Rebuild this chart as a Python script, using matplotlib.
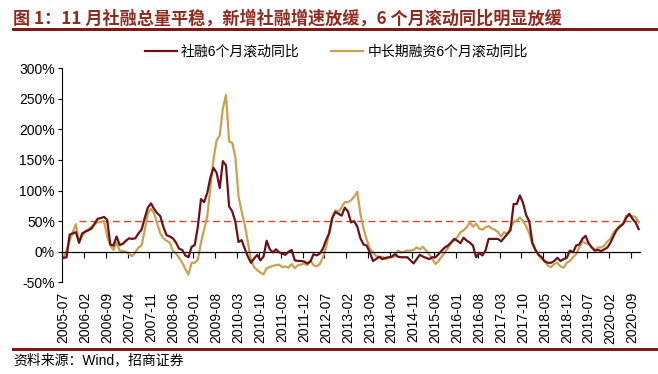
import matplotlib
matplotlib.use("Agg")
import matplotlib.pyplot as plt
from matplotlib.lines import Line2D
from matplotlib.ticker import FuncFormatter

plt.rcParams['font.family'] = ['Liberation Sans', 'Noto Sans CJK SC', 'DejaVu Sans']

# monthly, 2005-07 .. 2020-11
start_year, start_month = 2005, 7

# 社融6个月滚动同比 (%)
sr_roll6 = [
    -10, -9, 28, 30, 32, 15, 30, 33, 35, 38,
    46, 54, 55, 57, 52, 12, 10, 25, 11, 13,
    18, 22, 21, 22, 30, 36, 55, 72, 79, 70,
    63, 58, 40, 27, 25, 22, 15, 5, 3, -6,
    -9, 8, 11, 41, 86, 81, 96, 121, 137, 129,
    104, 148, 141, 74, 66, 49, 16, 19, 5, -8,
    -18, -11, -5, -14, -8, 18, 4, -1, 4, -1,
    -3, -5, 0, 3, -14, -15, -15, -16, -19, -16,
    -4, -6, -3, 5, 19, 30, 55, 65, 62, 59,
    72, 66, 48, 50, 41, 22, 12, 10, -1, -15,
    -12, -8, -12, -10, -9, -8, -4, -8, -9, -9,
    -9, -14, -19, -12, -5, -8, -10, -12, -9, -9,
    -4, 2, 7, 10, 15, 21, 18, 14, 23, 18,
    15, 10, -9, -2, -6, 2, 21, 21, 21, 21,
    17, 23, 29, 35, 78, 78, 92, 80, 60, 50,
    15, 3, -5, -9, -16, -18, -18, -15, -10, -15,
    -12, -10, 2, -1, 10, 12, 21, 26, 14, 7,
    2, 3, 1, 4, 7, 15, 26, 36, 41, 45,
    55, 62, 54, 48, 37,
]

# 中长期融资6个月滚动同比 (%)
mlt_roll6 = [
    -10, 2, 18, 32, 45, 14, 26, 33, 37, 41,
    45, 48, 49, 50, 25, 10, 3, 15, 2, 1,
    0, -4, -7, -1, 7, 10, 35, 62, 70, 63,
    46, 30, 22, 18, 15, 2, -3, -10, -18, -28,
    -37, -18, -18, -13, 15, 36, 58, 104, 151, 182,
    190, 234, 256, 180, 178, 155, 91, 66, 44, 16,
    -14, -25, -30, -34, -37, -27, -25, -23, -22, -21,
    -25, -24, -26, -20, -27, -22, -21, -19, -22, -14,
    -22, -24, -20, -9, 7, 32, 57, 68, 65, 73,
    81, 81, 84, 90, 98, 62, 38, 20, 5, -1,
    -7, -9, -8, -12, -10, -9, -8, 2, -1, 0,
    2, 2, 3, 7, 4, 8, 2, -4, -12, -20,
    -15, -8, -1, 6, 15, 18, 24, 32, 35, 40,
    48, 41, 46, 38, 36, 40, 42, 38, 36, 32,
    25, 32, 29, 40, 48, 51, 56, 50, 42, 30,
    12, 2, -6, -12, -16, -23, -25, -20, -18, -24,
    -26, -18, -15, -9, -4, 7, 17, 14, 13, 7,
    2, 7, 7, 10, 17, 21, 32, 37, 43, 46,
    59, 59, 58, 57, 48,
]

# dashed reference level (%), drawn from the 6th month on
ref_level = 49.5
ref_start = 5

label_step = 7

n = len(sr_roll6)
months = []
for k in range(n):
    y = start_year + (start_month - 1 + k) // 12
    m = (start_month - 1 + k) % 12 + 1
    months.append(f"{y}-{m:02d}")
xs = list(range(n))

DARK = '#6B1218'
GOLD = '#C9A24F'
TITLE_RED = '#8E2A1E'

fig = plt.figure(figsize=(6.58, 3.74), dpi=100)
ax = fig.add_axes([0.094, 0.245, 0.879, 0.573])

ax.plot(xs, sr_roll6, color=DARK, lw=1.6, label='社融6个月滚动同比', zorder=3)
ax.plot(xs, mlt_roll6, color=GOLD, lw=1.6, label='中长期融资6个月滚动同比', zorder=2)
ax.plot(xs[ref_start:], [ref_level] * (n - ref_start), color='#D0453A',
        lw=1.0, dashes=(5, 3), zorder=1)

ax.set_xlim(-0.5, n - 0.5)
ax.set_ylim(-50, 300)
ax.set_yticks(range(-50, 301, 50))
ax.yaxis.set_major_formatter(FuncFormatter(lambda v, p: f"{int(v)}%"))
ax.tick_params(axis='y', direction='out', length=3, width=0.8, labelsize=10, pad=2)

for s in ['top', 'right']:
    ax.spines[s].set_visible(False)
ax.spines['left'].set_linewidth(0.8)
ax.spines['bottom'].set_position(('data', 0))
ax.spines['bottom'].set_linewidth(0.9)

# category boundary ticks on the zero line
ax.set_xticks([k - 0.5 for k in range(0, n, label_step)])
ax.tick_params(axis='x', direction='out', length=4, width=0.8, labelbottom=False)

# date labels at the bottom of the plot
sec = ax.secondary_xaxis('bottom')
sec.set_xticks(xs[::label_step], [months[k] for k in xs[::label_step]], rotation=90)
sec.tick_params(length=0, labelsize=10, pad=7)
sec.spines['bottom'].set_visible(False)

fig.legend(loc='center', bbox_to_anchor=(0.511, 0.861), ncol=2, frameon=False,
           fontsize=10, handlelength=2.3, handletextpad=0.3, columnspacing=2.3)

fig.text(0.02, 0.949, '图 1：11 月社融总量平稳，新增社融增速放缓，6 个月滚动同比明显放缓',
         fontsize=12.3, fontweight='bold', color=TITLE_RED, va='center', ha='left',
         family=['Noto Sans CJK SC', 'DejaVu Sans'])
fig.add_artist(Line2D([0.02, 1.0], [0.922, 0.922], transform=fig.transFigure,
                      color='#7E1A16', lw=2.2))
fig.add_artist(Line2D([0.02, 1.0], [0.067, 0.067], transform=fig.transFigure,
                      color='#7E1A16', lw=2.2))
fig.text(0.02, 0.037, '资料来源：Wind，招商证券', fontsize=10, va='center', ha='left')

fig.savefig('out.png', dpi=100)
